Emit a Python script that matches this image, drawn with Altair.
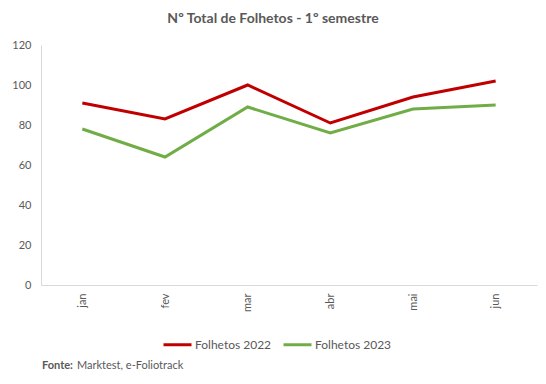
import altair as alt
import pandas as pd

months = ["jan", "fev", "mar", "abr", "mai", "jun"]
folhetos_2022 = [91, 83, 100, 81, 94, 102]
folhetos_2023 = [78, 64, 89, 76, 88, 90]
series_names = ["Folhetos 2022", "Folhetos 2023"]
series_colors = ["#C00000", "#70AD47"]

rows = []
for name, vals in zip(series_names, [folhetos_2022, folhetos_2023]):
    for m, v in zip(months, vals):
        rows.append({"mes": m, "valor": v, "serie": name})
df = pd.DataFrame(rows)

FONT = "Lato"
GREY = "#595959"

lines = alt.Chart(df).mark_line(strokeWidth=3).encode(
    x=alt.X("mes:N", sort=months, title=None,
            scale=alt.Scale(type="point", padding=0.5),
            axis=alt.Axis(labelAngle=270, ticks=False, domainColor="#D9D9D9",
                          labelColor=GREY, labelFont=FONT, labelFontSize=11,
                          labelPadding=8)),
    y=alt.Y("valor:Q", title=None,
            scale=alt.Scale(domain=[0, 120], nice=False),
            axis=alt.Axis(values=[0, 20, 40, 60, 80, 100, 120], grid=False,
                          ticks=False, domainColor="#D9D9D9", labelColor=GREY,
                          labelFont=FONT, labelFontSize=11, labelPadding=10)),
    color=alt.Color("serie:N", title=None,
                    scale=alt.Scale(domain=series_names, range=series_colors),
                    legend=alt.Legend(orient="none", legendX=121, legendY=284,
                                      direction="horizontal", symbolType="stroke",
                                      symbolStrokeWidth=3, symbolSize=784,
                                      labelFont=FONT, labelFontSize=12,
                                      labelColor=GREY, labelOffset=2,
                                      columnPadding=5)),
)

footer_df = pd.DataFrame({"a": ["Fonte:"], "b": ["Marktest, e-Foliotrack"]})
foot1 = alt.Chart(footer_df).mark_text(align="left", baseline="alphabetic",
                                       font=FONT, fontSize=11, fontWeight="bold",
                                       color=GREY).encode(
    text="a:N", x=alt.value(1), y=alt.value(324))
foot2 = alt.Chart(footer_df).mark_text(align="left", baseline="alphabetic",
                                       font=FONT, fontSize=11,
                                       color=GREY).encode(
    text="b:N", x=alt.value(36), y=alt.value(324))

chart = alt.layer(lines, foot1, foot2).properties(
    width=496, height=240,
    padding={"left": 33, "top": 37, "right": 1, "bottom": 91},
    autosize=alt.AutoSizeParams(type="none"),
    title=alt.TitleParams("Nº Total de Folhetos - 1º semestre", font=FONT,
                          fontSize=14, fontWeight="bold", color=GREY,
                          anchor="middle", dx=-16, offset=13),
).configure_view(stroke=None)

chart.save("out.html", embed_options={"renderer": "svg", "actions": False})
